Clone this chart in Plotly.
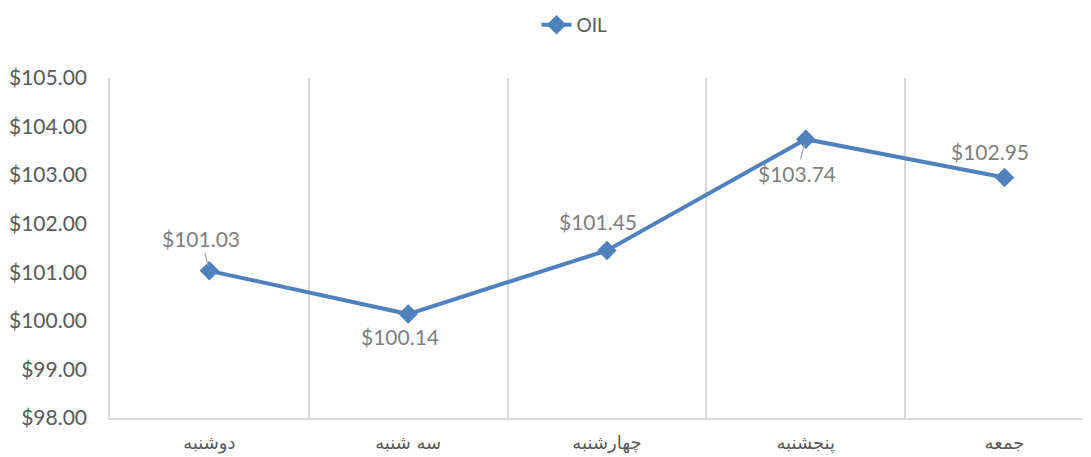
import plotly.graph_objects as go

days = ["دوشنبه", "سه شنبه", "چهارشنبه", "پنجشنبه", "جمعه"]
oil = [101.03, 100.14, 101.45, 103.74, 102.95]
y_ticks = [98, 99, 100, 101, 102, 103, 104, 105]

_LINE = "#4f81bd"
_TEXT = "#595959"
_LABEL = "#7f7f7f"
_GRID = "#d9d9d9"
_FONT = "Lato, 'Open Sans', sans-serif"

x_pos = list(range(len(days)))

fig = go.Figure()
fig.add_trace(
    go.Scatter(
        name="OIL",
        x=x_pos,
        y=oil,
        mode="lines+markers",
        line={"color": _LINE, "width": 4},
        marker={"symbol": "diamond", "size": 15, "color": _LINE},
        cliponaxis=False,
    )
)

# label offsets (px) and whether a leader line is drawn, in the style of Excel data labels
offsets = [(-8, -32), (-8, 22), (-9, -29), (-9, 34), (-15, -26)]
leaders = [True, False, False, True, False]
for i, (value, (dx, dy), lead) in enumerate(zip(oil, offsets, leaders)):
    fig.add_annotation(
        x=i,
        y=value,
        text=f"${value:.2f}",
        showarrow=lead,
        arrowhead=0,
        arrowwidth=1.2,
        arrowcolor="#a6a6a6",
        standoff=5,
        ax=dx if lead else 0,
        ay=dy if lead else 0,
        xshift=0 if lead else dx,
        yshift=0 if lead else -dy,
        font={"color": _LABEL, "size": 21, "family": _FONT},
    )

# page body has an 8px margin, so the figure is sized to fit the window
fig.update_layout(
    width=1083,
    height=449,
    margin=dict(l=102, r=1, t=70, b=39, autoexpand=False),
    plot_bgcolor="white",
    paper_bgcolor="white",
    font={"color": _TEXT, "family": _FONT, "size": 21},
    showlegend=True,
    legend=dict(
        orientation="h",
        x=0.474,
        xanchor="center",
        y=1.156,
        yanchor="middle",
        font={"size": 19, "color": _TEXT},
    ),
)
fig.update_xaxes(
    range=[-0.5, 4.43],
    tickmode="array",
    tickvals=x_pos,
    ticktext=days,
    ticks="",
    showgrid=False,
    zeroline=False,
    showline=True,
    linecolor=_GRID,
    linewidth=1.5,
    automargin=False,
    tickfont={"size": 18, "color": _TEXT, "family": "'DejaVu Sans', sans-serif"},
    ticklabelstandoff=8,
    minor=dict(tick0=0.5, dtick=1, showgrid=True, gridcolor=_GRID, gridwidth=1.5, ticks=""),
)
fig.update_yaxes(
    range=[98, 105],
    tickmode="array",
    tickvals=y_ticks,
    ticktext=[f"${v:.2f}" for v in y_ticks],
    ticks="",
    showgrid=False,
    zeroline=False,
    showline=True,
    linecolor=_GRID,
    linewidth=1.5,
    automargin=False,
    ticklabelstandoff=17,
)
fig.write_html("out.html")
